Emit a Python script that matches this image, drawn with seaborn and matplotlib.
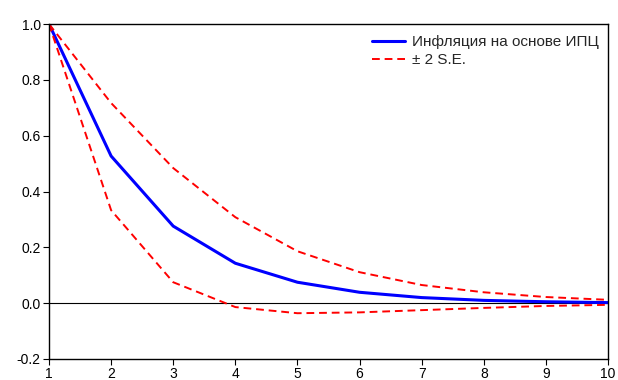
import numpy as np
import pandas as pd
import seaborn as sns
import matplotlib.pyplot as plt

periods = [1, 2, 3, 4, 5, 6, 7, 8, 9, 10]
response = [1.0, 0.527, 0.276, 0.143, 0.075, 0.039, 0.020, 0.010, 0.005, 0.002]
upper = [1.0, 0.717, 0.484, 0.308, 0.186, 0.111, 0.065, 0.039, 0.022, 0.012]
lower = [1.0, 0.333, 0.075, -0.014, -0.036, -0.033, -0.025, -0.017, -0.010, -0.006]

df = pd.DataFrame({'period': periods, 'response': response, 'upper': upper, 'lower': lower})

sns.set_style("white")
plt.rcParams['font.family'] = ['Liberation Sans', 'DejaVu Sans']

fig = plt.figure(figsize=(6.18, 3.8), dpi=100)
ax = fig.add_axes([49 / 618, 1 - 359 / 380, (608 - 49) / 618, (359 - 24) / 380])

ax.axhline(0, color='black', linewidth=0.8, zorder=1)
sns.lineplot(data=df, x='period', y='response', color='#0000ff', linewidth=2.2,
             label='Инфляция на основе ИПЦ', ax=ax)
sns.lineplot(data=df, x='period', y='upper', color='#ff0000', linewidth=1.4,
             linestyle=(0, (4, 2.5)), label='± 2 S.E.', ax=ax)
sns.lineplot(data=df, x='period', y='lower', color='#ff0000', linewidth=1.4,
             linestyle=(0, (4, 2.5)), ax=ax)

ax.set_xlim(1, 10)
ax.set_ylim(-0.2, 1.0)
ax.set_xticks(periods)
ax.set_yticks([-0.2, 0.0, 0.2, 0.4, 0.6, 0.8, 1.0])
ax.set_yticklabels(['-0.2', '0.0', '0.2', '0.4', '0.6', '0.8', '1.0'])
ax.set_xlabel('')
ax.set_ylabel('')
ax.tick_params(axis='both', direction='out', length=4, width=0.8, labelsize=10,
               bottom=True, left=True, colors='black', pad=2)
for s in ax.spines.values():
    s.set_color('black')
    s.set_linewidth(1.0)

ax.legend(loc='upper right', frameon=False, fontsize=11, handlelength=2.2,
          handletextpad=0.45, borderaxespad=0.0, labelspacing=0.25,
          bbox_to_anchor=(0.995, 0.985))

plt.savefig('out.png', dpi=100)
plt.close()
